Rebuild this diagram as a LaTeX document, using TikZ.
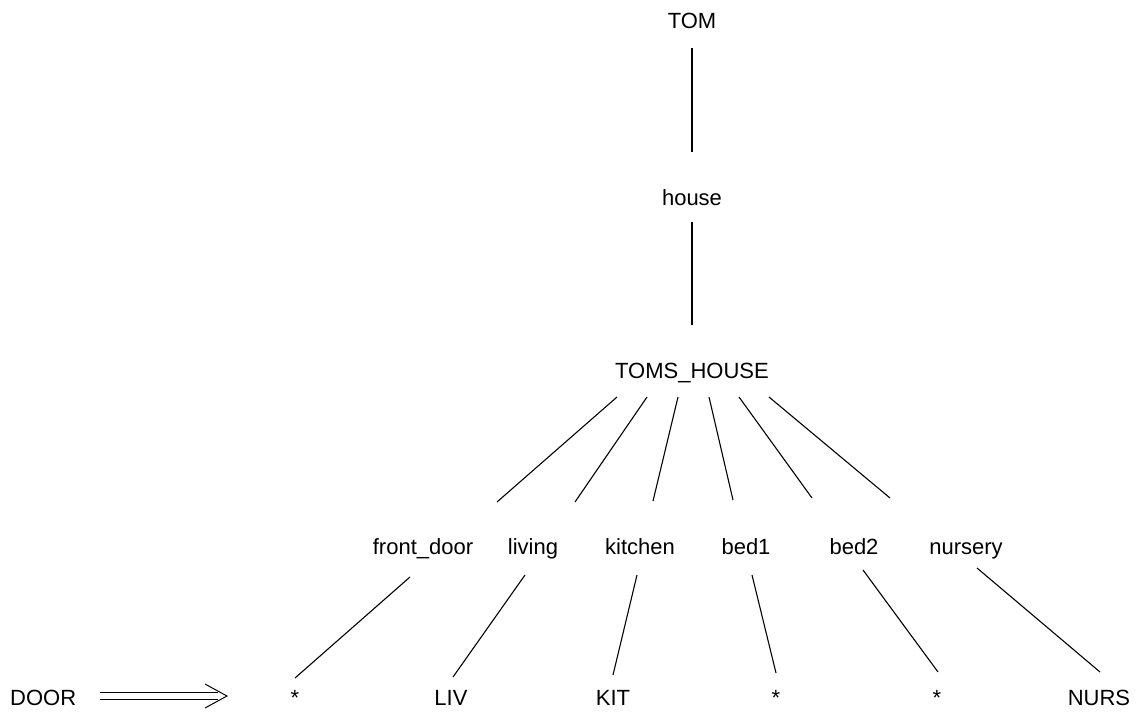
\documentclass[tikz,border=0pt]{standalone}
\usepackage{fontspec}
\setmainfont{Liberation Sans}
\usetikzlibrary{calc}
\begin{document}
\begin{tikzpicture}[x=1pt,y=-1pt,
  lbl/.style={anchor=base,inner sep=0pt,font=\fontsize{22}{26}\selectfont},
  link/.style={line width=1.1pt},
  implied/.style={line width=1pt}]
\useasboundingbox (0,0) rectangle (1143,716);

% tree labels
\node[lbl] (tom)   at (692,28)  {TOM};
\node[lbl] (house) at (692,205) {house};
\node[lbl] (th)    at (692,378) {TOMS\_HOUSE};

\node[lbl] (fd) at (423,554) {front\_door};
\node[lbl] (lv) at (533,554) {living};
\node[lbl] (kt) at (640,554) {kitchen};
\node[lbl] (b1) at (746,554) {bed1};
\node[lbl] (b2) at (854,554) {bed2};
\node[lbl] (ns) at (966,554) {nursery};

\node[lbl] (s1)   at (295,705)  {*};
\node[lbl] (liv)  at (451,705)  {LIV};
\node[lbl] (kit)  at (613,705)  {KIT};
\node[lbl] (s2)   at (776,705)  {*};
\node[lbl] (s3)   at (937,705)  {*};
\node[lbl] (nurs) at (1099,705) {NURS};

\node[lbl,anchor=base west] (door) at (10,705) {DOOR};

% spine
\draw[link] ($(tom.base)+(0,20)$)    -- ($(house.base)+(0,-53)$);
\draw[link] ($(house.base)+(0,17)$)  -- ($(th.base)+(0,-53)$);

% rooms
\draw[link] ($(th.base)+(-75,19)$) -- ($(fd.base)+(74,-52)$);
\draw[link] ($(th.base)+(-45,19)$) -- ($(lv.base)+(42,-52)$);
\draw[link] ($(th.base)+(-14,19)$) -- ($(kt.base)+(13,-53)$);
\draw[link] ($(th.base)+(17,19)$)  -- ($(b1.base)+(-13,-54)$);
\draw[link] ($(th.base)+(47,19)$)  -- ($(b2.base)+(-42,-56)$);
\draw[link] ($(th.base)+(77,19)$)  -- ($(ns.base)+(-76,-56)$);

% values
\draw[link] ($(fd.base)+(-13,23)$) -- ($(s1.base)+(0,-27)$);
\draw[link] ($(lv.base)+(-8,21)$)  -- ($(liv.base)+(2,-28)$);
\draw[link] ($(kt.base)+(-3,21)$)  -- ($(kit.base)+(0,-30)$);
\draw[link] ($(b1.base)+(6,21)$)   -- ($(s2.base)+(0,-32)$);
\draw[link] ($(b2.base)+(9,16)$)   -- ($(s3.base)+(1,-33)$);
\draw[link] ($(ns.base)+(11,14)$)  -- ($(nurs.base)+(1,-33)$);

% DOOR maps to the front door value: a double-shafted arrow
\coordinate (ia) at ($(door.base east)+(24,-9)$);
\coordinate (ib) at ($(s1.base)+(-68,-9)$);
\draw[implied] ($(ia)+(0,-3.5)$) -- ($(ib)+(-9,-3.5)$);
\draw[implied] ($(ia)+(0,3.5)$)  -- ($(ib)+(-9,3.5)$);
\draw[implied,line join=miter] ($(ib)+(-22,-12)$) -- (ib) -- ($(ib)+(-22,12)$);
\end{tikzpicture}
\end{document}
